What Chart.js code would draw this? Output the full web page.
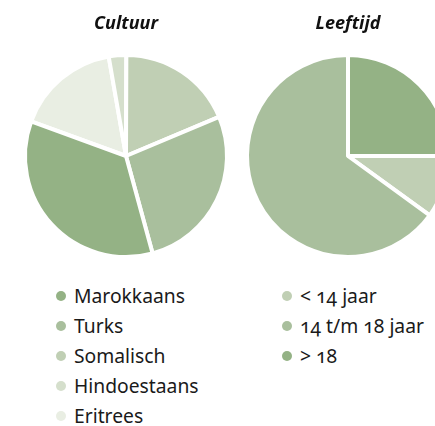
<!DOCTYPE html>
<html><head><meta charset="utf-8">
<script src="https://cdn.jsdelivr.net/npm/chart.js@4"></script>
<style>
html,body{margin:0;padding:0;width:435px;height:426px;overflow:hidden;background:#fff;}
canvas{position:absolute;top:0;}
#c1{left:0;}
#c2{left:222px;}
.legend{position:absolute;margin:0;padding:0;list-style:none;font-family:"Noto Sans",sans-serif;font-size:19.3px;color:#1a1a1a;font-feature-settings:"onum" 1;}
.legend li{height:29.9px;line-height:29.9px;display:flex;align-items:center;white-space:nowrap;}
.legend .dot{width:10px;height:10px;border-radius:50%;margin-right:8px;flex:none;}
#l1{left:56px;top:281px;}
#l2{left:282px;top:281px;}
</style>
</head><body>
<canvas id="c1" width="252" height="270"></canvas>
<canvas id="c2" width="252" height="270"></canvas>
<ul class="legend" id="l1"></ul>
<ul class="legend" id="l2"></ul>
<script>
const cultuurTitle = 'Cultuur';
const cultuurLabels = ['Marokkaans','Turks','Somalisch','Hindoestaans','Eritrees'];
const cultuurValues = [34.8, 27.1, 18.6, 2.8, 16.7];
const cultuurColors = ['#94b285','#a9bf9d','#c0cfb4','#d5dfcc','#e9eee3'];

const leeftijdTitle = 'Leeftijd';
const leeftijdLabels = ['< 14 jaar','14 t/m 18 jaar','> 18'];
const leeftijdValues = [10, 65, 25];
const leeftijdColors = ['#c0cfb4','#a9bf9d','#94b285'];

function makePie(id, title, labels, values, colors, rotation){
  return new Chart(document.getElementById(id), {
    type:'pie',
    data:{labels:labels, datasets:[{data:values, backgroundColor:colors, borderColor:'#ffffff', borderWidth:4, hoverOffset:0, radius:101, rotation:rotation}]},
    options:{
      responsive:false, animation:false, devicePixelRatio:1,
      layout:{padding:{bottom:2.6}},
      plugins:{
        legend:{display:false},
        tooltip:{enabled:false},
        title:{display:true, text:title, color:'#111111',
          font:{family:'"Open Sans"', size:18, weight:'bold', style:'italic', lineHeight:1.2},
          padding:{top:13,bottom:10}}
      }
    }
  });
}
function makeLegend(id, labels, colors){
  const ul = document.getElementById(id);
  labels.forEach((l,i)=>{
    const li = document.createElement('li');
    const d = document.createElement('span'); d.className='dot'; d.style.background=colors[i];
    const t = document.createElement('span'); t.textContent=l;
    li.appendChild(d); li.appendChild(t); ul.appendChild(li);
  });
}
// Cultuur slices run counter-clockwise in legend order: draw reversed, starting at 290 degrees
makePie('c1', cultuurTitle, cultuurLabels.slice().reverse(), cultuurValues.slice().reverse(), cultuurColors.slice().reverse(), -70);
makePie('c2', leeftijdTitle, leeftijdLabels, leeftijdValues, leeftijdColors, 90);
makeLegend('l1', cultuurLabels, cultuurColors);
makeLegend('l2', leeftijdLabels, leeftijdColors);
</script>
</body></html>
